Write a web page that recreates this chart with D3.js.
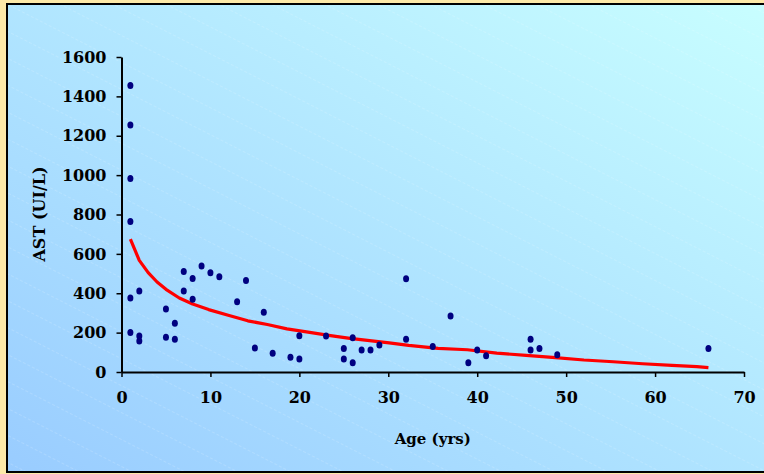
<!DOCTYPE html>
<html>
<head>
<meta charset="utf-8">
<script src="https://cdn.jsdelivr.net/npm/d3@7"></script>
<style>
  html, body { margin: 0; padding: 0; background: #fde9a8; }
  svg { display: block; }
  .axis text { font-family: "DejaVu Serif", serif; font-weight: bold; font-size: 16px; fill: #000; }
  .title { font-family: "DejaVu Serif", serif; font-weight: bold; fill: #000; }
</style>
</head>
<body>
<div id="chart"></div>
<script>
// scatter points: age (yrs) and AST (UI/L)
const ages = [1, 1, 1, 1, 1, 2, 1, 2, 2, 5, 5, 6, 6, 7, 7, 8, 8, 9, 10, 11, 13, 14, 15, 16, 17, 19, 20, 20,
    23, 25, 25, 26, 26, 27, 28, 29, 32, 32, 35, 37, 39, 40, 41, 46, 46, 47, 49, 66]
const ast = [1455, 1255, 983, 765, 376, 411, 201, 183, 157, 320, 176, 247, 166, 511, 411, 475, 369, 538, 504, 484,
    357, 465, 122, 303, 95, 75, 184, 66, 183, 120, 66, 174, 47, 112, 112, 137, 474, 166, 129, 284, 47, 112, 83,
    166, 112, 120, 88, 120]

// red trend line
const trendAge = [1, 2, 3, 4, 5, 6.5, 8, 9.8, 12, 14.2, 16.4, 18.6, 20.8, 23.5, 25.7, 27.9, 30.1, 32.3, 35.6,
    38.9, 42.2, 45.5, 48.8, 52, 55.3, 58.6, 61.9, 64.7, 66]
const trendAst = [675, 567, 505, 457, 420, 376, 345, 317, 288, 260, 241, 219, 204, 185, 171, 159, 148, 135, 120,
    113, 96, 84, 73, 61, 52, 42, 34, 27, 22]

const xTicks = [0, 10, 20, 30, 40, 50, 60, 70]
const yTicks = [0, 200, 400, 600, 800, 1000, 1200, 1400, 1600]

const width = 764
const height = 474

const svg = d3.select("#chart").append("svg")
    .attr("width", width)
    .attr("height", height)

const defs = svg.append("defs")

const grad = defs.append("linearGradient")
    .attr("id", "bg")
    .attr("x1", 0).attr("y1", 1)
    .attr("x2", 1).attr("y2", 0)
grad.append("stop").attr("offset", 0).attr("stop-color", "#99ccff")
grad.append("stop").attr("offset", 1).attr("stop-color", "#c8feff")

const hatch = defs.append("pattern")
    .attr("id", "hatch")
    .attr("width", 40)
    .attr("height", 24)
    .attr("patternUnits", "userSpaceOnUse")
    .attr("patternTransform", "rotate(27)")
hatch.append("path")
    .attr("d", "M 0 0 L 40 0")
    .attr("style", "fill: none; stroke: #ffffff; stroke-opacity: 0.3; stroke-width: 1; stroke-dasharray: 3 2;")

// yellow frame and the gradient panel
svg.append("rect")
    .attr("width", width).attr("height", height)
    .attr("fill", "#fde9a8")
svg.append("rect")
    .attr("x", 7).attr("y", 4)
    .attr("width", 762).attr("height", 468)
    .attr("fill", "url(#bg)")
svg.append("rect")
    .attr("x", 7).attr("y", 4)
    .attr("width", 762).attr("height", 468)
    .attr("fill", "url(#hatch)")
    .attr("stroke", "#000")
    .attr("stroke-width", 2)

const x = d3.scaleLinear().domain([0, 70]).range([121.5, 744])
const y = d3.scaleLinear().domain([0, 1600]).range([372, 57])

svg.append("g")
    .attr("class", "axis")
    .attr("transform", `translate(0,${y(0)})`)
    .call(d3.axisBottom(x).tickValues(xTicks).tickFormat(d3.format("d"))
        .tickSize(5).tickSizeOuter(0).tickPadding(15))

svg.append("g")
    .attr("class", "axis")
    .attr("transform", `translate(${x(0)},0)`)
    .call(d3.axisLeft(y).tickValues(yTicks).tickFormat(d3.format("d"))
        .tickSize(5).tickSizeOuter(0).tickPadding(10))

svg.selectAll(".axis .domain").attr("stroke", "#000").attr("stroke-width", 2)
svg.selectAll(".axis .tick line").attr("stroke", "#000").attr("stroke-width", 1.5)

const line = d3.line()
    .x((d, i) => x(trendAge[i]))
    .y(d => y(d))

svg.append("path")
    .datum(trendAst)
    .attr("d", line)
    .attr("fill", "none")
    .attr("stroke", "#ff0000")
    .attr("stroke-width", 3.2)
    .attr("stroke-linejoin", "round")

svg.append("g")
    .selectAll("ellipse")
    .data(ast)
    .join("ellipse")
    .attr("cx", (d, i) => x(ages[i]))
    .attr("cy", d => y(d))
    .attr("rx", 3)
    .attr("ry", 3.5)
    .attr("fill", "#000080")

svg.append("text")
    .attr("class", "title")
    .attr("x", x(35))
    .attr("y", 444)
    .attr("text-anchor", "middle")
    .attr("font-size", 15)
    .text("Age (yrs)")

svg.append("text")
    .attr("class", "title")
    .attr("transform", "translate(45,214) rotate(-90)")
    .attr("text-anchor", "middle")
    .attr("font-size", 16)
    .text("AST (UI/L)")
</script>
</body>
</html>
